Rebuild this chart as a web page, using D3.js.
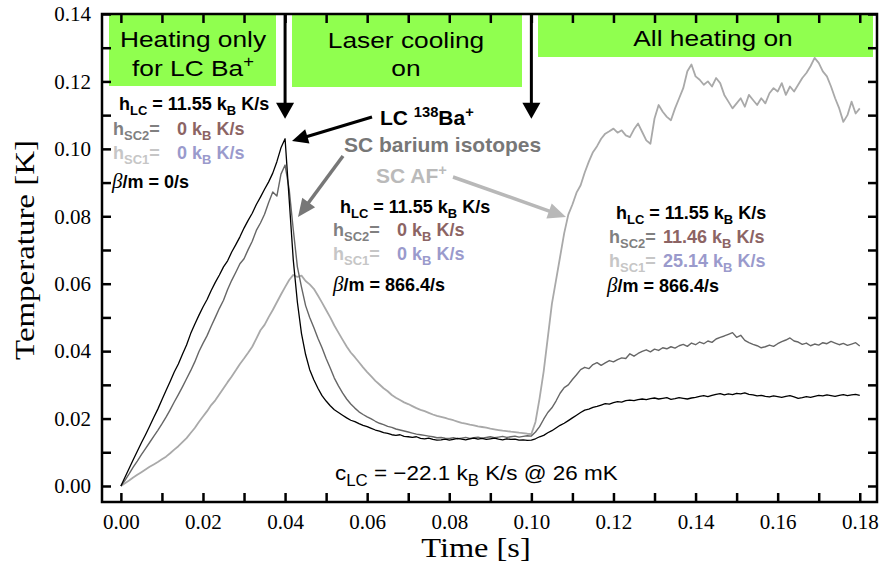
<!DOCTYPE html>
<html>
<head>
<meta charset="utf-8">
<script src="https://cdn.jsdelivr.net/npm/d3@7"></script>
<style>
  html, body { margin: 0; padding: 0; background: #fff; }
  svg { display: block; }
  text { white-space: pre; }
</style>
</head>
<body>
<svg id="chart" width="879" height="566"></svg>
<script>
// Sampling interval of the temperature traces (s); sample i is at i * tStep
const tStep = 0.001;

// Laser-cooled 138Ba+ (K)
const tempLC = [
  0, 0.0026, 0.0052, 0.0078, 0.0103, 0.0128, 0.0152, 0.0177, 0.0203, 0.0228,
  0.0256, 0.0283, 0.0310, 0.0338, 0.0362, 0.0391, 0.0418, 0.0452, 0.0480, 0.0506,
  0.0531, 0.0553, 0.0580, 0.0604, 0.0626, 0.0650, 0.0668, 0.0694, 0.0716, 0.0739,
  0.0765, 0.0788, 0.0809, 0.0835, 0.0857, 0.0880, 0.0902, 0.0928, 0.0962, 0.1003,
  0.1030, 0.0850, 0.0670, 0.0545, 0.0452, 0.0390, 0.0345, 0.0315, 0.0290, 0.0268,
  0.0252, 0.0238, 0.0226, 0.0218, 0.0210, 0.0202, 0.0195, 0.0191, 0.0185, 0.0180,
  0.0176, 0.0171, 0.0166, 0.0163, 0.0158, 0.0156, 0.0152, 0.0150, 0.0152, 0.0147,
  0.0146, 0.0144, 0.0146, 0.0141, 0.0140, 0.0142, 0.0138, 0.0136, 0.0137, 0.0139,
  0.0136, 0.0138, 0.0141, 0.0139, 0.0137, 0.0140, 0.0142, 0.0139, 0.0141, 0.0138,
  0.0140, 0.0142, 0.0139, 0.0137, 0.0140, 0.0138, 0.0139, 0.0136, 0.0137, 0.0135,
  0.0136, 0.0140, 0.0146, 0.0150, 0.0158, 0.0164, 0.0172, 0.0180, 0.0186, 0.0194,
  0.0202, 0.0210, 0.0218, 0.0225, 0.0228, 0.0233, 0.0236, 0.0240, 0.0244, 0.0243,
  0.0247, 0.0250, 0.0249, 0.0253, 0.0255, 0.0253, 0.0256, 0.0258, 0.0256, 0.0259,
  0.0261, 0.0258, 0.0260, 0.0262, 0.0257, 0.0259, 0.0262, 0.0260, 0.0258, 0.0261,
  0.0263, 0.0266, 0.0268, 0.0265, 0.0269, 0.0272, 0.0274, 0.0270, 0.0273, 0.0271,
  0.0275, 0.0273, 0.0276, 0.0272, 0.0270, 0.0267, 0.0269, 0.0266, 0.0264, 0.0267,
  0.0265, 0.0263, 0.0266, 0.0268, 0.0264, 0.0260, 0.0262, 0.0265, 0.0263, 0.0266,
  0.0269, 0.0267, 0.0270, 0.0268, 0.0266, 0.0269, 0.0271, 0.0268, 0.0270, 0.0272,
  0.0269
];

// Sympathetically cooled barium isotopes (K)
const tempSC2 = [
  0, 0.0017, 0.0036, 0.0056, 0.0074, 0.0093, 0.0111, 0.0129, 0.0147, 0.0165,
  0.0184, 0.0204, 0.0226, 0.0249, 0.0271, 0.0294, 0.0318, 0.0342, 0.0368, 0.0398,
  0.0423, 0.0446, 0.0474, 0.0500, 0.0527, 0.0551, 0.0583, 0.0610, 0.0634, 0.0659,
  0.0674, 0.0701, 0.0726, 0.0758, 0.0780, 0.0806, 0.0841, 0.0872, 0.0860, 0.0925,
  0.0952, 0.0880, 0.0760, 0.0650, 0.0590, 0.0535, 0.0500, 0.0470, 0.0438, 0.0410,
  0.0378, 0.0350, 0.0320, 0.0297, 0.0276, 0.0258, 0.0243, 0.0231, 0.0220, 0.0212,
  0.0205, 0.0199, 0.0192, 0.0186, 0.0182, 0.0177, 0.0174, 0.0169, 0.0166, 0.0163,
  0.0160, 0.0157, 0.0154, 0.0152, 0.0150, 0.0148, 0.0146, 0.0143, 0.0144, 0.0142,
  0.0141, 0.0143, 0.0140, 0.0142, 0.0144, 0.0141, 0.0143, 0.0145, 0.0142, 0.0144,
  0.0146, 0.0143, 0.0145, 0.0147, 0.0144, 0.0146, 0.0148, 0.0145, 0.0147, 0.0149,
  0.0148, 0.0160, 0.0176, 0.0198, 0.0218, 0.0232, 0.0252, 0.0275, 0.0292, 0.0300,
  0.0316, 0.0330, 0.0345, 0.0352, 0.0348, 0.0360, 0.0366, 0.0358, 0.0365, 0.0372,
  0.0368, 0.0375, 0.0380, 0.0378, 0.0392, 0.0385, 0.0393, 0.0399, 0.0404, 0.0398,
  0.0406, 0.0402, 0.0410, 0.0407, 0.0413, 0.0409, 0.0416, 0.0420, 0.0414, 0.0424,
  0.0419, 0.0427, 0.0422, 0.0430, 0.0426, 0.0436, 0.0441, 0.0445, 0.0450, 0.0455,
  0.0441, 0.0447, 0.0432, 0.0425, 0.0420, 0.0416, 0.0410, 0.0413, 0.0418, 0.0414,
  0.0422, 0.0428, 0.0433, 0.0439, 0.0430, 0.0427, 0.0420, 0.0424, 0.0416, 0.0421,
  0.0418, 0.0425, 0.0422, 0.0429, 0.0424, 0.0419, 0.0423, 0.0417, 0.0421, 0.0425,
  0.0415
];

// Sympathetically cooled AF+ ions (K)
const tempSC1 = [
  0, 0.0008, 0.0016, 0.0025, 0.0033, 0.0041, 0.0049, 0.0057, 0.0064, 0.0071,
  0.0079, 0.0087, 0.0097, 0.0108, 0.0118, 0.0130, 0.0142, 0.0157, 0.0172, 0.0190,
  0.0206, 0.0222, 0.0240, 0.0254, 0.0272, 0.0290, 0.0308, 0.0325, 0.0343, 0.0362,
  0.0378, 0.0395, 0.0413, 0.0437, 0.0462, 0.0478, 0.0501, 0.0522, 0.0545, 0.0568,
  0.0590, 0.0611, 0.0626, 0.0620, 0.0624, 0.0608, 0.0598, 0.0585, 0.0565, 0.0544,
  0.0522, 0.0500, 0.0476, 0.0455, 0.0434, 0.0414, 0.0396, 0.0382, 0.0367, 0.0352,
  0.0338, 0.0325, 0.0312, 0.0301, 0.0290, 0.0281, 0.0270, 0.0262, 0.0255, 0.0248,
  0.0243, 0.0237, 0.0231, 0.0226, 0.0222, 0.0217, 0.0212, 0.0208, 0.0205, 0.0202,
  0.0198, 0.0195, 0.0191, 0.0187, 0.0185, 0.0182, 0.0180, 0.0177, 0.0175, 0.0173,
  0.0170, 0.0168, 0.0166, 0.0164, 0.0163, 0.0161, 0.0160, 0.0158, 0.0157, 0.0155,
  0.0154, 0.0190, 0.0260, 0.0340, 0.0440, 0.0540, 0.0610, 0.0680, 0.0750, 0.0805,
  0.0835, 0.0870, 0.0892, 0.0930, 0.0962, 0.0990, 0.1008, 0.1030, 0.1045, 0.1052,
  0.1060, 0.1048, 0.1055, 0.1040, 0.1035, 0.1058, 0.1075, 0.1050, 0.1025, 0.1015,
  0.1090, 0.1130, 0.1110, 0.1095, 0.1085, 0.1120, 0.1150, 0.1180, 0.1230, 0.1250,
  0.1215, 0.1205, 0.1190, 0.1200, 0.1185, 0.1210, 0.1195, 0.1160, 0.1140, 0.1120,
  0.1135, 0.1150, 0.1125, 0.1160, 0.1145, 0.1130, 0.1150, 0.1135, 0.1165, 0.1180,
  0.1170, 0.1195, 0.1160, 0.1185, 0.1170, 0.1190, 0.1210, 0.1225, 0.1245, 0.1270,
  0.1255, 0.1230, 0.1215, 0.1185, 0.1150, 0.1120, 0.1080, 0.1100, 0.1140, 0.1105,
  0.1120
];

// Axis ticks
const xTickValues = [0, 0.01, 0.02, 0.03, 0.04, 0.05, 0.06, 0.07, 0.08, 0.09,
                     0.10, 0.11, 0.12, 0.13, 0.14, 0.15, 0.16, 0.17, 0.18];
const xTickLabels = ["0.00", "0.02", "0.04", "0.06", "0.08", "0.10",
                     "0.12", "0.14", "0.16", "0.18"];
const yTickValues = [0, 0.01, 0.02, 0.03, 0.04, 0.05, 0.06, 0.07,
                     0.08, 0.09, 0.10, 0.11, 0.12, 0.13, 0.14];
const yTickLabels = ["0.00", "0.02", "0.04", "0.06", "0.08", "0.10", "0.12", "0.14"];

// Switching times of the experiment phases (s) and arrow tip temperature (K)
const switchTimes = [0.04, 0.10];
const switchArrowTip = 0.1089;

const SANS = "'Liberation Sans', Arial, Helvetica, sans-serif";
const SERIF = "'Liberation Serif', 'Times New Roman', Times, serif";

const svg = d3.select("#chart");
const plotL = 102, plotR = 877, plotT = 14, plotB = 502;

const x = d3.scaleLinear().domain([-0.0046, 0.1842]).range([plotL, plotR]);
const y = d3.scaleLinear().domain([-0.00475, 0.14]).range([plotB, plotT]);

// Phase banners
const GREEN = "#90ff4f";
const banners = [
  { x0: 109, x1: 276, y1: 86 },
  { x0: 292, x1: 522, y1: 87 },
  { x0: 538, x1: 873, y1: 57 }
];
svg.selectAll("rect.banner").data(banners).enter().append("rect")
  .attr("class", "banner")
  .attr("x", d => d.x0).attr("y", plotT)
  .attr("width", d => d.x1 - d.x0).attr("height", d => d.y1 - plotT)
  .attr("fill", GREEN);

// Rich text helper: parts with optional sub/superscript and per-part styling
function rich(parent, px, py, parts, o) {
  const t = parent.append("text")
    .attr("x", px).attr("y", py)
    .attr("font-family", o.family || SANS)
    .attr("font-size", o.size)
    .attr("font-weight", o.weight || "normal")
    .attr("fill", o.fill || "#000");
  if (o.anchor) t.attr("text-anchor", o.anchor);
  let shift = 0;
  parts.forEach(p => {
    const target = p.sub ? o.size * 0.27 : p.sup ? -o.size * 0.4 : 0;
    const s = t.append("tspan").text(p.t).attr("dy", target - shift);
    shift = target;
    if (p.sub || p.sup) s.attr("font-size", o.size * (p.scale || 0.72));
    if (p.fill) s.attr("fill", p.fill);
    if (p.x != null) s.attr("x", p.x);
    if (p.family) s.attr("font-family", p.family);
    if (p.italic) s.attr("font-style", "italic");
    if (p.weight) s.attr("font-weight", p.weight);
    if (p.size) s.attr("font-size", p.size);
  });
  return t;
}

// Banner captions (slightly widened lettering)
function caption(cx, cy, parts) {
  const g = svg.append("g").attr("transform", `translate(${cx},${cy}) scale(1.17,1)`);
  rich(g, 0, 0, parts, { size: 22.5, anchor: "middle" });
}
caption(193, 47, [{ t: "Heating only" }]);
caption(193, 76, [{ t: "for LC Ba" }, { t: "+", sup: 1, scale: 0.7 }]);
caption(406, 48, [{ t: "Laser cooling" }]);
caption(406, 76, [{ t: "on" }]);
caption(713, 46, [{ t: "All heating on" }]);

// Temperature traces
const line = d3.line()
  .x((d, i) => x(i * tStep))
  .y(d => y(d));

const series = [
  { values: tempSC1, color: "#a9a9a9", width: 1.8 },
  { values: tempSC2, color: "#666666", width: 1.4 },
  { values: tempLC, color: "#000000", width: 1.3 }
];
svg.selectAll("path.trace").data(series).enter().append("path")
  .attr("class", "trace")
  .attr("d", d => line(d.values))
  .attr("fill", "none")
  .attr("stroke", d => d.color)
  .attr("stroke-width", d => d.width)
  .attr("stroke-linejoin", "round");

// Arrow helper
function arrow(x1, y1, x2, y2, color, w, headLen, headW) {
  const a = Math.atan2(y2 - y1, x2 - x1);
  const bx = x2 - headLen * Math.cos(a), by = y2 - headLen * Math.sin(a);
  svg.append("line")
    .attr("x1", x1).attr("y1", y1).attr("x2", bx + Math.cos(a)).attr("y2", by + Math.sin(a))
    .attr("stroke", color).attr("stroke-width", w);
  const nx = -Math.sin(a) * headW / 2, ny = Math.cos(a) * headW / 2;
  svg.append("path")
    .attr("d", `M${x2},${y2}L${bx + nx},${by + ny}L${bx - nx},${by - ny}Z`)
    .attr("fill", color);
}

// Phase switch arrows
switchTimes.forEach(t => arrow(x(t), plotT, x(t), y(switchArrowTip), "#000", 3, 16, 18));

// Trace labels with pointers
arrow(372, 117, 292, 141, "#000", 3, 16, 15);
arrow(343, 156, 298, 217, "#777777", 3.5, 18, 16);
arrow(453, 177, 566, 217, "#b8b8b8", 3.5, 18, 16);

rich(svg, 380, 125, [{ t: "LC " }, { t: "138", sup: 1, scale: 0.7 }, { t: "Ba" }, { t: "+", sup: 1, scale: 0.7 }],
  { size: 21, weight: "bold" });
rich(svg, 344, 152, [{ t: "SC barium isotopes" }], { size: 21, weight: "bold", fill: "#777777" });
rich(svg, 376, 183, [{ t: "SC AF" }, { t: "+", sup: 1, scale: 0.7 }], { size: 21, weight: "bold", fill: "#bababa" });

// Parameter blocks
const C_SC2 = "#808080", C_SC2V = "#8c6464", C_SC1 = "#c6c6c6", C_SC1V = "#9a9acc";
function paramBlock(b) {
  const o = { size: 18, weight: "bold" };
  rich(svg, b.xLC, b.y[0], [{ t: "h" }, { t: "LC", sub: 1 }, { t: " = 11.55 k" }, { t: "B", sub: 1 }, { t: " K/s" }], o);
  rich(svg, b.xSC, b.y[1], [{ t: "h", fill: C_SC2 }, { t: "SC2", sub: 1, fill: C_SC2 }, { t: "=", fill: C_SC2 },
    { t: b.v2 + " k", x: b.xV, fill: C_SC2V }, { t: "B", sub: 1, fill: C_SC2V }, { t: " K/s", fill: C_SC2V }], o);
  rich(svg, b.xSC, b.y[2], [{ t: "h", fill: C_SC1 }, { t: "SC1", sub: 1, fill: C_SC1 }, { t: "=", fill: C_SC1 },
    { t: b.v1 + " k", x: b.xV, fill: C_SC1V }, { t: "B", sub: 1, fill: C_SC1V }, { t: " K/s", fill: C_SC1V }], o);
  rich(svg, b.xB, b.y[3], [{ t: "β", family: SERIF, italic: 1, weight: "normal", size: 21 }, { t: "/m = " + b.beta + "/s" }], o);
}
paramBlock({ xLC: 119, xSC: 113, xV: 177, xB: 112, y: [110, 135, 159, 188], v2: "0", v1: "0", beta: "0" });
paramBlock({ xLC: 340, xSC: 333, xV: 397, xB: 333, y: [213, 236, 260, 291], v2: "0", v1: "0", beta: "866.4" });
paramBlock({ xLC: 616, xSC: 609, xV: 663, xB: 607, y: [219, 243, 267, 292], v2: "11.46", v1: "25.14", beta: "866.4" });

// Cooling rate note
{
  const g = svg.append("g").attr("transform", "translate(335,480) scale(1.07,1)");
  rich(g, 0, 0, [{ t: "c" }, { t: "LC", sub: 1, scale: 0.75 }, { t: " = −22.1 k" }, { t: "B", sub: 1, scale: 0.75 },
    { t: " K/s @ 26 mK" }], { size: 21 });
}

// Axes: inward ticks on all four sides
const tickLen = 9;
function styleTicks(g) {
  g.select(".domain").remove();
  g.selectAll(".tick line").attr("stroke", "#000").attr("stroke-width", 2.5);
}
svg.append("g").attr("transform", `translate(0,${plotB})`)
  .call(d3.axisBottom(x).tickValues(xTickValues).tickSizeInner(-tickLen).tickSizeOuter(0).tickFormat(""))
  .call(styleTicks);
svg.append("g").attr("transform", `translate(0,${plotT})`)
  .call(d3.axisTop(x).tickValues(xTickValues).tickSizeInner(-tickLen).tickSizeOuter(0).tickFormat(""))
  .call(styleTicks);
svg.append("g").attr("transform", `translate(${plotL},0)`)
  .call(d3.axisLeft(y).tickValues(yTickValues).tickSizeInner(-tickLen).tickSizeOuter(0).tickFormat(""))
  .call(styleTicks);
svg.append("g").attr("transform", `translate(${plotR},0)`)
  .call(d3.axisRight(y).tickValues(yTickValues).tickSizeInner(-tickLen).tickSizeOuter(0).tickFormat(""))
  .call(styleTicks);

// Tick labels
const xLab = svg.append("g").attr("transform", `translate(0,${plotB})`)
  .call(d3.axisBottom(x).tickValues(xTickLabels.map(Number)).tickSize(0).tickPadding(12)
    .tickFormat((d, i) => xTickLabels[i]));
xLab.select(".domain").remove();
xLab.selectAll("text").attr("font-family", SERIF).attr("font-size", 21).attr("fill", "#000");

const yLab = svg.append("g").attr("transform", `translate(${plotL},0)`)
  .call(d3.axisLeft(y).tickValues(yTickLabels.map(Number)).tickSize(0).tickPadding(11)
    .tickFormat((d, i) => yTickLabels[i]));
yLab.select(".domain").remove();
yLab.selectAll("text").attr("font-family", SERIF).attr("font-size", 21).attr("fill", "#000");

// Frame
svg.append("rect")
  .attr("x", plotL).attr("y", plotT).attr("width", plotR - plotL).attr("height", plotB - plotT)
  .attr("fill", "none").attr("stroke", "#000").attr("stroke-width", 2.5);

// Axis titles
svg.append("text")
  .attr("transform", "translate(476,557) scale(1.2,1)")
  .attr("text-anchor", "middle")
  .attr("font-family", SERIF).attr("font-size", 27)
  .text("Time [s]");
svg.append("text")
  .attr("transform", "translate(34,250) rotate(-90) scale(1.22,1)")
  .attr("text-anchor", "middle")
  .attr("font-family", SERIF).attr("font-size", 27)
  .text("Temperature [K]");
</script>
</body>
</html>
